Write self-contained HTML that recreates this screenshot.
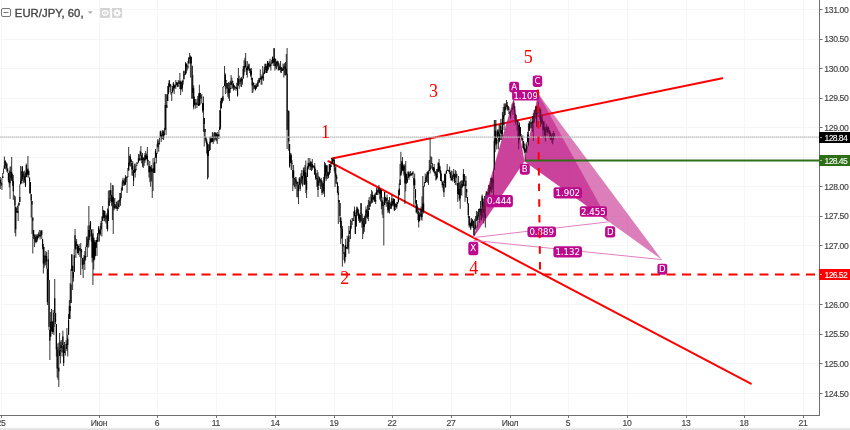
<!DOCTYPE html>
<html><head><meta charset="utf-8"><title>EUR/JPY, 60</title>
<style>
html,body{margin:0;padding:0;background:#fff;}
body{width:850px;height:430px;overflow:hidden;position:relative;}
svg{position:absolute;left:0;top:0;display:block;}
.ax{font-family:"Liberation Sans",Arial,sans-serif;font-size:8.6px;fill:#444;stroke:#444;stroke-width:0.15px;letter-spacing:-0.35px;}
.tg{font-family:"Liberation Sans",Arial,sans-serif;font-size:8.6px;fill:#fff;stroke:#fff;stroke-width:0.1px;letter-spacing:-0.6px;}
.num{font-family:"Liberation Serif","Times New Roman",serif;font-size:18px;fill:#ff0000;}
.pl{font-family:"DejaVu Sans",Verdana,sans-serif;font-size:8.6px;fill:#fff;stroke:#fff;stroke-width:0.05px;}
</style></head><body>
<svg width="850" height="430" viewBox="0 0 850 430">

<path d="M1.5 0V415M99.5 0V415M157.5 0V415M216.5 0V415M275.5 0V415M334.5 0V415M392.5 0V415M451.5 0V415M510.5 0V415M568.5 0V415M627.5 0V415M686.5 0V415M744.5 0V415M803.5 0V415M0 9.5H819M0 39.5H819M0 68.5H819M0 98.5H819M0 127.5H819M0 157.5H819M0 186.5H819M0 216.5H819M0 245.5H819M0 275.5H819M0 304.5H819M0 334.5H819M0 363.5H819M0 393.5H819" stroke="#f6f6f6" stroke-width="1" fill="none"/>
<polygon points="524.4,161.3 538.2,93.8 661.7,259.6" fill="rgba(190,20,130,0.55)"/>
<polygon points="524.4,161.3 538.2,93.8 609.0,221.8" fill="rgba(190,20,130,0.16)"/>
<polygon points="473.5,237.6 513.5,99 524.4,161.3" fill="rgba(190,20,130,0.62)"/>
<path d="M93 274.4H819" stroke="#ff0000" stroke-width="2" stroke-dasharray="9 6.5" fill="none"/>
<path d="M332 158.6L722.3 78.2M328.3 161.2L750.8 383.7" stroke="#ff0000" stroke-width="2" stroke-linecap="round" fill="none"/>
<path d="M0.30 177.0V189.0M1.11 182.7V186.0M1.93 178.0V190.0M2.74 173.0V178.0M3.55 168.5V173.0M4.36 156.5V168.5M5.17 160.3V168.8M5.99 161.9V169.6M6.80 163.5V171.8M7.61 168.4V172.9M8.43 172.9V182.1M9.24 170.6V187.3M10.05 166.6V198.8M10.86 166.5V177.6M11.68 157.0V181.0M12.49 173.6V185.8M13.30 175.0V199.9M14.11 195.5V196.5M14.93 196.5V233.0M15.74 206.7V236.5M16.55 208.0V212.4M17.36 206.0V213.0M18.18 204.4V221.0M18.99 202.0V205.6M19.80 184.3V202.0M20.61 166.0V184.3M21.43 171.2V183.5M22.24 166.0V180.9M23.05 171.4V183.5M23.86 174.0V182.3M24.68 170.6V182.8M25.49 172.6V187.0M26.30 163.5V177.0M27.11 169.9V177.6M27.93 156.0V174.3M28.74 170.8V177.6M29.55 177.6V193.5M30.36 182.0V194.2M31.18 194.2V217.6M31.99 201.0V234.0M32.80 217.6V253.5M33.61 230.0V239.1M34.42 234.3V247.1M35.24 234.7V242.6M36.05 234.2V243.4M36.86 234.7V241.8M37.67 234.1V239.7M38.49 232.4V237.3M39.30 230.0V236.3M40.11 235.1V239.4M40.92 230.4V235.5M41.74 230.0V239.0M42.55 239.0V249.4M43.36 244.0V273.5M44.17 246.9V267.7M44.99 254.6V265.7M45.80 251.0V265.0M46.61 252.1V268.9M47.42 268.9V305.0M48.24 250.0V280.1M49.05 280.1V329.9M49.86 329.8V360.0M50.67 312.0V336.6M51.49 309.0V331.2M52.30 321.5V334.0M53.11 310.0V332.3M53.92 312.6V335.0M54.74 279.0V313.0M55.55 313.0V324.0M56.36 324.0V356.5M57.17 343.4V377.5M57.99 347.0V379.8M58.80 342.6V387.0M59.61 333.0V356.1M60.42 341.6V363.5M61.24 340.0V348.0M62.05 342.7V356.5M62.86 330.6V344.9M63.67 344.9V366.0M64.49 342.0V353.0M65.30 348.5V355.7M66.11 340.3V349.1M66.92 328.0V351.1M67.74 334.8V356.5M68.55 314.0V334.8M69.36 300.0V319.0M70.17 283.0V319.0M70.99 269.0V303.0M71.80 254.0V271.0M72.61 265.8V290.0M73.42 272.0V281.6M74.24 248.8V272.0M75.05 229.0V248.8M75.86 241.6V258.0M76.67 239.0V245.9M77.49 243.9V253.5M78.30 245.8V254.9M79.11 244.0V250.8M79.92 247.9V257.0M80.74 243.0V275.0M81.55 249.0V258.0M82.36 258.0V269.1M83.17 257.3V278.0M83.99 255.0V264.4M84.80 251.0V270.0M85.61 246.8V260.6M86.42 236.5V246.8M87.24 238.6V257.0M88.05 225.6V247.9M88.86 206.0V246.7M89.67 225.2V240.0M90.49 221.0V229.6M91.30 229.6V241.6M92.11 234.8V262.4M92.92 229.0V285.0M93.74 237.7V269.6M94.55 240.3V259.4M95.36 242.2V256.3M96.17 240.0V247.7M96.99 237.2V256.0M97.80 233.2V241.7M98.61 226.0V233.7M99.42 229.7V241.6M100.24 226.1V235.8M101.05 221.0V229.4M101.86 216.2V236.5M102.67 206.0V221.1M103.49 209.9V218.2M104.30 210.7V221.0M105.11 211.0V221.6M105.92 218.2V223.5M106.74 213.5V228.9M107.55 208.4V231.4M108.36 190.5V221.0M109.17 197.9V205.8M109.99 190.1V203.0M110.80 182.8V195.3M111.61 195.0V205.9M112.42 185.0V220.1M113.24 185.3V234.0M114.05 198.5V210.4M114.86 198.0V208.9M115.67 204.3V208.4M116.49 201.9V209.2M117.30 200.7V211.0M118.11 203.2V209.0M118.92 199.9V207.2M119.74 193.0V202.3M120.55 192.9V205.8M121.36 188.2V197.7M122.17 181.8V190.5M122.99 177.7V185.7M123.80 181.2V182.9M124.61 178.5V185.7M125.42 175.0V185.0M126.24 176.3V182.2M127.05 176.8V193.0M127.86 168.0V177.1M128.68 147.0V170.6M129.49 155.8V165.8M130.30 154.0V166.7M131.11 159.6V166.0M131.93 162.8V175.5M132.74 161.0V175.8M133.55 170.2V186.0M134.36 163.7V173.0M135.18 163.5V177.6M135.99 165.7V170.3M136.80 162.1V166.1M137.61 162.5V163.5M138.43 154.0V162.5M139.24 154.5V160.7M140.05 150.7V161.0M140.86 146.0V155.7M141.68 155.4V163.3M142.49 153.0V166.8M143.30 157.3V168.0M144.11 158.6V166.0M144.93 153.0V162.8M145.74 150.8V159.6M146.55 153.5V159.0M147.36 147.0V165.3M148.18 159.9V166.0M148.99 166.0V177.6M149.80 161.0V181.9M150.61 167.2V186.7M151.43 165.0V181.4M152.24 168.9V198.0M153.05 158.0V191.0M153.86 162.6V173.0M154.68 157.5V173.0M155.49 149.0V157.5M156.30 153.1V163.5M157.11 143.7V153.1M157.93 139.0V147.3M158.74 143.2V151.8M159.55 137.9V144.3M160.36 130.6V138.0M161.18 135.0V142.0M161.99 130.6V139.3M162.80 130.0V139.0M163.61 130.6V140.0M164.43 128.0V135.2M165.24 94.0V130.1M166.05 94.0V135.0M166.86 95.1V107.9M167.68 86.0V101.0M168.49 83.3V94.0M169.30 80.0V87.3M170.11 83.9V91.9M170.93 84.7V94.7M171.74 92.3V101.0M172.55 86.0V92.3M173.36 82.0V90.7M174.18 85.2V94.0M174.99 83.8V87.3M175.80 80.0V89.0M176.61 82.0V84.8M177.43 82.7V87.1M178.24 80.0V87.0M179.05 80.8V84.0M179.86 73.0V89.0M180.68 80.5V95.0M181.49 82.0V89.2M182.30 80.5V91.8M183.11 79.3V84.7M183.93 70.6V79.3M184.74 74.0V75.0M185.55 62.0V74.5M186.36 63.4V73.4M187.18 65.1V70.6M187.99 61.0V68.6M188.80 57.0V63.5M189.61 53.0V58.8M190.43 55.5V77.6M191.24 56.5V65.8M192.05 65.8V99.0M192.86 75.0V92.9M193.68 85.3V109.4M194.49 96.5V104.9M195.30 99.4V108.6M196.11 102.7V104.9M196.93 99.0V108.0M197.74 96.0V104.7M198.55 93.5V106.0M199.36 84.7V105.5M200.18 92.8V104.7M200.99 95.1V99.1M201.80 94.0V103.5M202.61 103.2V112.6M203.43 96.5V131.8M204.24 118.1V146.5M205.05 129.0V138.7M205.86 136.9V142.6M206.68 139.0V153.5M207.49 142.7V179.4M208.30 144.0V177.7M209.11 145.0V151.0M209.93 137.0V149.9M210.74 136.4V143.2M211.55 138.1V142.3M212.36 132.0V141.8M213.18 132.6V144.0M213.99 136.9V142.0M214.80 132.0V140.6M215.61 132.7V139.9M216.43 133.6V141.3M217.24 132.0V144.0M218.05 134.1V137.9M218.86 130.0V139.0M219.68 110.1V130.0M220.49 101.0V129.0M221.30 98.0V108.3M222.11 97.5V103.5M222.93 87.0V100.8M223.74 86.0V87.0M224.55 66.0V86.0M225.36 73.3V94.0M226.18 80.0V89.1M226.99 83.0V93.3M227.80 83.2V96.8M228.61 82.0V98.6M229.43 82.7V101.0M230.24 80.8V92.7M231.05 75.0V85.0M231.86 77.6V89.0M232.68 80.7V88.3M233.49 83.5V90.6M234.30 85.5V89.9M235.11 86.6V88.7M235.93 87.0V90.6M236.74 82.8V89.2M237.55 78.0V96.5M238.36 68.0V85.6M239.18 75.7V88.8M239.99 80.5V83.8M240.80 77.6V86.6M241.61 76.8V87.0M242.43 78.4V84.7M243.24 66.0V78.4M244.05 60.1V75.3M244.86 57.8V72.1M245.68 53.0V67.8M246.49 67.7V75.0M247.30 61.0V77.6M248.11 66.5V70.9M248.93 63.5V68.6M249.74 68.6V73.0M250.55 68.7V76.6M251.36 68.0V80.0M252.18 77.8V93.0M252.99 82.0V92.5M253.80 83.3V89.3M254.61 85.4V88.8M255.43 84.7V90.6M256.24 83.2V88.6M257.05 83.9V87.0M257.86 80.0V87.0M258.68 78.1V83.0M259.49 78.1V82.5M260.30 69.4V79.6M261.11 76.4V84.7M261.93 74.4V84.7M262.74 66.0V78.3M263.55 72.6V80.9M264.36 67.0V74.0M265.18 63.5V73.0M265.99 66.0V72.5M266.80 63.8V73.0M267.61 61.0V70.6M268.43 63.2V69.6M269.24 61.1V67.1M270.05 58.8V67.7M270.86 62.6V70.6M271.68 59.8V63.6M272.49 56.5V63.5M273.30 59.1V66.0M274.11 48.0V62.9M274.93 58.4V70.6M275.74 59.0V68.5M276.55 61.4V69.3M277.36 60.6V66.5M278.18 61.0V70.6M278.99 65.7V70.4M279.80 63.4V70.1M280.61 61.0V72.6M281.43 66.9V73.0M282.24 68.4V70.9M283.05 63.5V70.5M283.86 64.4V77.6M284.68 63.1V75.3M285.49 62.0V75.5M286.30 54.0V75.0M287.11 48.0V149.0M287.93 110.1V111.1M288.74 111.1V150.8M289.55 144.0V167.6M290.36 152.9V162.7M291.18 153.5V169.7M291.99 160.1V170.0M292.80 170.0V191.0M293.61 165.0V185.5M294.43 178.0V187.2M295.24 176.9V189.0M296.05 177.0V186.2M296.86 181.3V197.2M297.68 181.8V197.3M298.49 184.7V204.0M299.30 177.0V184.7M300.11 182.7V191.0M300.93 173.3V182.7M301.74 170.0V184.5M302.55 175.8V186.5M303.36 167.6V175.8M304.18 167.3V184.8M304.99 165.0V184.6M305.80 160.6V193.2M306.61 176.1V198.0M307.43 166.2V177.0M308.24 158.0V168.8M309.05 164.2V170.0M309.86 158.0V166.0M310.68 161.1V170.1M311.49 161.8V171.0M312.30 159.0V169.9M313.11 165.6V168.2M313.93 165.6V168.2M314.74 163.0V174.7M315.55 168.7V179.7M316.36 173.2V179.2M317.18 170.0V186.7M317.99 172.4V197.0M318.80 175.9V185.8M319.61 177.0V182.8M320.43 179.6V189.0M321.24 178.0V186.4M322.05 180.3V195.0M322.86 183.9V191.6M323.68 177.0V193.8M324.49 161.8V197.0M325.30 163.0V176.0M326.11 165.4V181.0M326.93 165.0V171.8M327.74 171.8V179.0M328.55 172.3V178.0M329.36 164.0V174.7M330.18 164.5V173.1M330.99 161.5V166.9M331.80 158.0V164.0M332.61 158.8V162.9M333.43 159.5V161.1M334.24 157.0V171.0M335.05 167.3V187.0M335.86 165.0V183.6M336.68 175.1V184.1M337.49 182.4V193.1M338.30 186.0V224.0M339.11 200.0V203.0M339.93 203.0V222.0M340.74 217.4V244.0M341.55 221.0V238.8M342.36 226.0V266.7M343.18 244.0V252.1M343.99 252.1V260.0M344.80 245.5V263.4M345.61 239.0V257.0M346.43 247.3V248.8M347.24 235.8V249.0M348.05 237.4V249.6M348.86 226.0V253.7M349.68 230.7V233.9M350.49 219.5V239.0M351.30 221.1V228.7M352.11 218.0V224.4M352.93 217.9V221.0M353.74 211.4V221.0M354.55 206.5V216.2M355.36 215.5V234.0M356.18 209.8V226.6M356.99 206.5V216.0M357.80 208.7V215.6M358.61 209.8V220.9M359.43 214.0V222.8M360.24 212.6V222.8M361.05 203.0V213.8M361.86 213.8V227.7M362.68 218.0V239.0M363.49 218.0V234.0M364.30 216.0V231.8M365.11 214.7V224.4M365.93 206.5V223.6M366.74 209.0V218.2M367.55 205.0V218.8M368.36 200.0V221.0M369.18 197.0V209.8M369.99 201.4V206.7M370.80 194.2V204.0M371.61 190.0V203.2M372.43 191.5V202.8M373.24 197.2V199.8M374.05 194.7V201.8M374.86 193.5V202.0M375.68 192.6V204.0M376.49 187.6V194.7M377.30 189.9V195.0M378.11 187.9V194.7M378.93 185.0V193.0M379.74 189.5V199.5M380.55 189.1V201.5M381.36 190.0V209.2M382.18 200.4V214.6M382.99 197.0V218.0M383.80 205.0V245.5M384.61 192.0V205.0M385.43 197.5V202.8M386.24 198.0V206.9M387.05 194.7V204.0M387.86 201.8V213.0M388.68 200.0V212.3M389.49 197.0V213.5M390.30 202.2V208.9M391.11 201.4V208.8M391.93 194.7V206.2M392.74 201.3V205.0M393.55 198.3V206.2M394.36 199.0V211.0M395.18 203.1V209.9M395.99 203.9V207.2M396.80 201.8V208.8M397.61 202.2V204.0M398.43 190.0V202.2M399.24 183.4V195.3M400.05 164.0V185.0M400.86 151.8V175.5M401.68 160.9V173.5M402.49 157.0V170.9M403.30 165.0V170.9M404.11 164.0V176.5M404.93 164.9V204.0M405.74 161.0V191.4M406.55 174.2V183.8M407.36 177.0V183.0M408.18 171.0V177.7M408.99 173.6V179.8M409.80 171.5V177.2M410.61 171.0V176.0M411.43 173.2V175.8M412.24 172.4V174.6M413.05 171.0V178.0M413.86 178.0V206.5M414.68 173.5V189.1M415.49 189.1V203.7M416.30 200.0V213.5M417.11 204.0V211.4M417.93 211.3V220.1M418.74 208.8V227.6M419.55 212.5V221.1M420.36 208.4V216.3M421.18 206.5V219.8M421.99 196.3V220.6M422.80 176.0V211.8M423.61 186.0V213.5M424.43 182.0V186.0M425.24 173.5V183.1M426.05 176.3V182.3M426.86 172.1V181.3M427.68 171.0V182.8M428.49 170.5V185.0M429.30 160.0V171.1M430.11 137.6V173.5M430.93 156.2V169.0M431.74 157.0V164.1M432.55 163.6V170.0M433.36 167.0V172.0M434.18 164.0V173.1M434.99 171.2V176.0M435.80 171.6V180.6M436.61 169.0V179.5M437.43 168.8V177.3M438.24 162.1V171.7M439.05 159.0V172.3M439.86 165.9V173.5M440.68 170.5V180.9M441.49 173.5V181.8M442.30 181.8V187.6M443.11 180.6V190.4M443.93 180.9V197.0M444.74 173.5V183.3M445.55 173.6V187.6M446.36 170.3V173.6M447.18 164.0V170.3M447.99 169.6V170.9M448.80 170.1V172.2M449.61 166.5V174.2M450.43 172.4V178.0M451.24 170.5V180.6M452.05 171.0V180.2M452.86 175.1V181.6M453.68 169.0V177.1M454.49 174.3V183.0M455.30 170.0V185.0M456.11 171.0V177.7M456.93 174.4V185.6M457.74 183.1V201.8M458.55 176.0V195.0M459.36 182.5V200.7M460.18 181.5V208.8M460.99 180.6V195.0M461.80 180.3V195.7M462.61 180.5V187.6M463.43 169.0V185.7M464.24 174.2V185.2M465.05 184.5V201.8M465.86 176.0V197.8M466.68 189.0V197.8M467.49 197.0V203.4M468.30 203.4V218.0M469.11 216.0V227.6M469.93 218.4V226.6M470.74 222.4V230.0M471.55 218.0V226.2M472.36 219.0V226.2M473.18 220.9V228.0M473.99 220.6V236.0M474.80 218.8V228.5M475.61 216.0V229.7M476.43 211.0V220.6M477.24 214.6V227.6M478.05 211.4V218.2M478.86 208.8V220.0M479.68 208.4V223.0M480.49 201.0V215.6M481.30 209.2V220.6M482.11 194.4V217.5M482.93 198.6V212.9M483.74 202.4V223.5M484.55 196.0V218.2M485.36 204.6V227.6M486.18 191.0V204.6M486.99 191.8V205.0M487.80 193.4V197.0M488.61 185.0V196.1M489.43 184.7V196.0M490.24 185.7V191.4M491.05 178.0V193.0M491.86 177.3V192.5M492.68 177.7V189.3M493.49 170.0V197.0M494.30 120.0V170.0M495.11 120.0V152.2M495.93 120.0V145.3M496.74 137.3V149.4M497.55 129.4V137.4M498.36 129.4V149.4M499.18 124.7V142.4M499.99 124.7V140.0M500.80 118.8V133.5M501.61 130.3V140.0M502.43 111.9V138.0M503.24 107.0V124.9M504.05 103.5V130.0M504.86 103.5V115.0M505.68 103.4V110.3M506.49 100.0V107.0M507.30 102.0V110.6M508.11 105.7V110.1M508.93 107.0V114.0M509.74 111.8V114.8M510.55 110.6V118.8M511.36 109.8V111.9M512.17 103.5V109.8M512.99 106.3V115.0M513.80 101.0V109.4M514.61 106.0V118.8M515.42 113.7V124.7M516.24 115.0V121.9M517.05 120.0V130.6M517.86 121.0V137.6M518.67 125.1V149.4M519.49 122.4V140.0M520.30 127.0V137.1M521.11 134.0V138.0M521.92 136.6V141.1M522.74 135.3V148.2M523.55 141.1V149.4M524.36 143.5V153.2M525.17 148.7V160.6M525.99 143.5V151.5M526.80 142.2V153.0M527.61 131.8V142.2M528.42 123.5V146.0M529.24 121.0V130.7M530.05 122.4V129.4M530.86 119.0V128.0M531.67 121.7V128.2M532.49 116.0V131.8M533.30 113.0V141.0M534.11 110.0V122.4M534.92 109.4V119.0M535.74 106.0V114.7M536.55 105.9V127.0M537.36 107.3V115.0M538.17 101.0V113.2M538.99 110.1V113.5M539.80 107.0V119.6M540.61 109.4V127.0M541.42 116.5V123.9M542.24 115.0V124.7M543.05 122.2V138.0M543.86 121.0V130.9M544.67 127.0V138.4M545.49 128.6V141.5M546.30 124.0V130.6M547.11 128.5V136.0M547.92 126.0V132.0M548.74 128.0V134.0M549.55 130.0V137.4M550.36 131.7V140.0M551.17 134.5V140.2M551.99 133.0V143.0M552.80 133.0V144.3M553.61 131.0V140.0M554.42 133.0V137.0" stroke="#000" stroke-width="0.8" fill="none"/>
<path d="M0.30 179.8V183.0M1.11 182.7V183.8M1.93 183.8V184.4M2.74 176.2V178.0M3.55 172.9V173.5M4.36 165.4V168.5M5.17 160.8V165.4M5.99 161.9V162.6M6.80 163.5V168.1M7.61 168.4V170.9M8.43 172.9V180.3M9.24 180.3V183.3M10.05 171.8V183.3M10.86 171.8V172.4M11.68 172.0V179.7M12.49 179.7V180.9M13.30 180.9V191.3M14.11 195.5V196.2M14.93 196.5V205.4M15.74 206.7V229.2M16.55 211.3V212.4M17.36 211.3V212.6M18.18 211.5V212.6M18.99 202.9V205.6M19.80 197.1V202.0M20.61 180.9V184.3M21.43 178.9V180.9M22.24 166.8V178.9M23.05 171.4V176.8M23.86 176.2V176.8M24.68 176.2V180.1M25.49 180.1V186.3M26.30 165.0V177.0M27.11 169.9V174.7M27.93 168.5V174.3M28.74 170.8V175.1M29.55 177.6V181.6M30.36 182.0V192.7M31.18 194.2V200.5M31.99 201.0V204.4M32.80 217.6V220.7M33.61 230.0V235.7M34.42 235.7V237.0M35.24 237.0V241.3M36.05 241.3V241.9M36.86 236.2V241.6M37.67 236.2V238.6M38.49 237.2V237.8M39.30 234.7V236.3M40.11 235.1V236.7M40.92 230.8V235.5M41.74 230.8V234.4M42.55 239.0V247.1M43.36 247.1V263.5M44.17 262.0V263.5M44.99 256.1V262.0M45.80 256.1V256.7M46.61 256.1V261.6M47.42 268.9V301.9M48.24 259.2V280.1M49.05 280.1V326.7M49.86 329.8V340.7M50.67 321.8V336.6M51.49 321.5V322.1M52.30 321.5V332.0M53.11 326.9V332.0M53.92 313.1V326.9M54.74 298.3V313.0M55.55 313.0V321.9M56.36 324.0V349.6M57.17 349.6V368.6M57.99 367.8V368.6M58.80 367.8V371.4M59.61 350.7V356.1M60.42 350.3V350.9M61.24 345.4V348.0M62.05 345.4V352.6M62.86 336.5V344.9M63.67 344.9V362.9M64.49 351.7V353.0M65.30 351.7V352.3M66.11 344.0V349.1M66.92 344.0V345.1M67.74 338.4V345.1M68.55 320.1V334.8M69.36 305.9V319.0M70.17 305.9V310.9M70.99 284.6V303.0M71.80 254.6V271.0M72.61 265.8V271.0M73.42 272.0V277.7M74.24 255.3V272.0M75.05 235.2V248.8M75.86 241.6V249.5M76.67 245.3V245.9M77.49 245.3V253.1M78.30 246.2V253.1M79.11 246.2V246.8M79.92 247.9V250.4M80.74 250.4V251.0M81.55 250.6V252.3M82.36 258.0V264.8M83.17 263.9V264.8M83.99 259.8V263.9M84.80 256.1V259.8M85.61 256.1V257.4M86.42 245.2V246.8M87.24 243.6V245.2M88.05 236.3V243.6M88.86 229.9V236.3M89.67 229.9V236.9M90.49 221.8V229.6M91.30 229.6V236.1M92.11 236.1V257.7M92.92 233.3V257.7M93.74 237.7V260.5M94.55 242.3V259.4M95.36 242.3V255.8M96.17 240.1V247.7M96.99 240.1V241.7M97.80 233.3V241.7M98.61 227.6V233.3M99.42 229.7V234.2M100.24 229.4V234.2M101.05 223.2V229.4M101.86 222.9V223.5M102.67 216.9V221.1M103.49 210.7V216.9M104.30 210.7V217.7M105.11 215.3V217.7M105.92 218.2V218.8M106.74 215.4V218.7M107.55 215.4V229.6M108.36 210.2V221.0M109.17 201.0V205.8M109.99 190.3V201.0M110.80 190.3V195.1M111.61 195.1V201.7M112.42 197.0V201.7M113.24 197.0V203.7M114.05 203.7V208.3M114.86 206.4V208.3M115.67 205.8V206.4M116.49 205.8V207.1M117.30 207.1V208.1M118.11 208.1V208.7M118.92 200.5V207.2M119.74 199.4V200.5M120.55 197.5V199.4M121.36 197.4V198.0M122.17 186.5V190.5M122.99 179.8V185.7M123.80 181.2V182.6M124.61 182.6V184.4M125.42 177.4V184.4M126.24 177.4V178.0M127.05 177.3V177.9M127.86 176.5V177.1M128.68 162.8V170.6M129.49 161.7V162.8M130.30 156.5V161.7M131.11 159.6V162.1M131.93 162.8V169.4M132.74 165.9V169.4M133.55 170.2V180.8M134.36 169.3V173.0M135.18 169.3V172.3M135.99 169.2V170.3M136.80 165.5V166.1M137.61 162.9V163.5M138.43 158.5V162.5M139.24 158.5V160.1M140.05 158.2V160.1M140.86 151.8V155.7M141.68 155.4V160.1M142.49 159.2V160.1M143.30 157.8V159.2M144.11 158.6V160.4M144.93 155.3V160.4M145.74 155.3V159.3M146.55 155.8V159.0M147.36 155.8V160.6M148.18 160.5V161.1M148.99 166.0V172.2M149.80 166.1V172.2M150.61 167.2V168.4M151.43 168.4V171.5M152.24 170.3V171.5M153.05 168.2V170.3M153.86 168.2V172.7M154.68 162.1V172.7M155.49 150.7V157.5M156.30 153.1V158.0M157.11 153.1V153.7M157.93 140.6V147.3M158.74 143.2V144.1M159.55 143.6V144.2M160.36 131.6V138.0M161.18 135.0V138.1M161.99 133.3V138.1M162.80 131.6V133.3M163.61 131.6V138.0M164.43 134.4V135.2M165.24 104.9V130.1M166.05 104.9V105.5M166.86 105.4V107.7M167.68 94.0V101.0M168.49 86.3V94.0M169.30 80.6V86.3M170.11 83.9V85.9M170.93 85.9V86.6M171.74 92.3V92.9M172.55 88.4V92.3M173.36 83.6V88.4M174.18 85.2V88.3M174.99 85.6V87.3M175.80 85.6V86.2M176.61 82.5V84.8M177.43 82.7V85.4M178.24 85.4V86.0M179.05 81.5V84.0M179.86 81.5V82.3M180.68 82.3V89.2M181.49 88.3V89.2M182.30 80.7V88.3M183.11 80.7V81.7M183.93 71.2V79.3M184.74 74.0V74.6M185.55 63.8V74.5M186.36 63.8V66.5M187.18 66.5V67.1M187.99 66.6V67.3M188.80 58.0V63.5M189.61 57.6V58.2M190.43 57.6V63.6M191.24 56.9V63.6M192.05 65.8V98.5M192.86 88.3V92.9M193.68 88.3V106.8M194.49 99.0V104.9M195.30 99.4V100.0M196.11 102.7V104.4M196.93 104.0V104.6M197.74 104.0V104.6M198.55 104.1V105.8M199.36 93.1V105.5M200.18 93.1V96.9M200.99 96.9V97.5M201.80 97.4V98.0M202.61 103.2V110.6M203.43 103.0V110.6M204.24 118.1V123.9M205.05 129.0V132.0M205.86 136.9V140.8M206.68 140.8V144.6M207.49 144.6V156.0M208.30 150.1V156.0M209.11 150.1V150.7M209.93 141.7V149.9M210.74 138.8V141.7M211.55 138.8V142.0M212.36 135.8V141.8M213.18 135.8V136.4M213.99 136.9V137.5M214.80 132.4V137.2M215.61 132.7V133.3M216.43 133.6V137.8M217.24 135.1V137.8M218.05 134.6V135.2M218.86 134.6V136.4M219.68 127.3V130.0M220.49 110.7V127.3M221.30 98.3V108.3M222.11 98.3V102.3M222.93 96.3V100.8M223.74 86.7V87.3M224.55 83.4V86.0M225.36 75.1V83.4M226.18 80.0V80.6M226.99 83.0V88.1M227.80 88.1V88.7M228.61 88.7V93.0M229.43 89.0V93.0M230.24 87.8V89.0M231.05 82.0V85.0M231.86 81.8V82.4M232.68 81.1V81.8M233.49 83.5V86.8M234.30 85.6V86.8M235.11 86.6V87.8M235.93 87.7V88.3M236.74 87.7V88.9M237.55 88.9V95.4M238.36 78.9V85.6M239.18 78.9V79.5M239.99 80.5V81.7M240.80 78.8V81.7M241.61 78.8V80.5M242.43 79.6V80.5M243.24 68.9V78.4M244.05 66.1V68.9M244.86 66.1V67.1M245.68 61.3V67.1M246.49 67.7V70.1M247.30 66.2V70.1M248.11 66.5V69.5M248.93 64.3V68.6M249.74 68.6V71.1M250.55 71.1V74.6M251.36 71.0V74.6M252.18 77.8V85.6M252.99 82.7V85.6M253.80 83.3V84.0M254.61 85.4V87.0M255.43 87.0V89.8M256.24 86.0V88.6M257.05 86.0V86.6M257.86 82.3V86.1M258.68 82.2V82.8M259.49 80.0V82.2M260.30 77.8V79.6M261.11 77.8V79.5M261.93 76.3V79.5M262.74 76.3V77.5M263.55 77.5V78.3M264.36 69.8V74.0M265.18 64.0V69.8M265.99 66.0V66.6M266.80 66.3V72.9M267.61 61.3V70.6M268.43 63.2V65.6M269.24 65.6V66.2M270.05 64.3V66.1M270.86 64.3V65.7M271.68 62.8V63.6M272.49 57.2V62.8M273.30 59.1V62.5M274.11 48.3V62.5M274.93 58.4V66.0M275.74 63.6V66.0M276.55 61.8V63.6M277.36 61.8V62.4M278.18 62.4V65.6M278.99 65.7V69.8M279.80 68.8V69.8M280.61 67.4V68.8M281.43 67.4V68.6M282.24 68.6V70.9M283.05 68.6V70.5M283.86 66.6V68.6M284.68 66.6V67.5M285.49 67.5V68.9M286.30 68.9V74.1M287.11 74.1V129.8M287.93 110.5V111.1M288.74 111.1V141.6M289.55 144.0V166.4M290.36 155.3V162.7M291.18 155.3V162.9M291.99 162.9V163.8M292.80 170.0V177.7M293.61 170.7V177.7M294.43 178.0V178.9M295.24 178.9V179.5M296.05 179.4V183.2M296.86 183.2V183.8M297.68 181.9V183.6M298.49 184.7V190.9M299.30 178.6V184.7M300.11 182.7V189.0M300.93 177.4V182.7M301.74 175.9V177.4M302.55 175.9V178.8M303.36 170.3V175.8M304.18 170.3V184.6M304.99 172.4V184.6M305.80 172.4V180.7M306.61 180.7V189.9M307.43 167.4V177.0M308.24 162.9V167.4M309.05 164.2V166.4M309.86 162.6V166.0M310.68 162.6V166.7M311.49 166.7V167.3M312.30 164.1V167.3M313.11 165.6V166.4M313.93 166.4V167.0M314.74 166.6V174.6M315.55 174.6V178.0M316.36 178.0V178.6M317.18 178.2V186.6M317.99 186.6V189.9M318.80 180.4V185.8M319.61 178.1V180.4M320.43 179.6V180.3M321.24 180.3V182.1M322.05 182.1V192.9M322.86 190.9V191.6M323.68 183.1V190.9M324.49 174.0V183.1M325.30 164.5V174.0M326.11 165.4V178.7M326.93 165.5V171.8M327.74 171.8V176.3M328.55 173.5V176.3M329.36 164.2V173.5M330.18 164.5V169.9M330.99 165.3V166.9M331.80 162.2V164.0M332.61 159.3V162.2M333.43 159.5V160.1M334.24 160.1V166.7M335.05 167.3V173.4M335.86 173.4V176.7M336.68 176.7V178.8M337.49 182.4V192.5M338.30 192.5V194.9M339.11 200.0V202.6M339.93 203.0V215.9M340.74 217.4V227.7M341.55 227.7V229.0M342.36 229.0V237.4M343.18 244.0V246.4M343.99 252.1V254.1M344.80 254.1V261.5M345.61 245.1V257.0M346.43 247.3V248.2M347.24 247.6V248.2M348.05 242.0V247.6M348.86 235.5V242.0M349.68 230.8V233.9M350.49 226.6V230.8M351.30 226.2V226.8M352.11 224.2V224.8M352.93 220.4V221.0M353.74 220.4V221.0M354.55 210.4V216.2M355.36 215.5V233.8M356.18 212.2V226.6M356.99 207.3V212.2M357.80 208.7V213.0M358.61 213.0V218.8M359.43 215.1V218.8M360.24 215.1V221.4M361.05 203.3V213.8M361.86 213.8V221.2M362.68 221.2V224.3M363.49 224.3V227.1M364.30 224.1V227.1M365.11 217.1V224.1M365.93 210.2V217.1M366.74 210.2V213.2M367.55 213.2V216.7M368.36 211.0V216.7M369.18 208.1V209.8M369.99 201.4V206.7M370.80 201.4V202.0M371.61 197.0V201.4M372.43 194.9V197.0M373.24 197.2V199.4M374.05 195.3V199.4M374.86 195.3V201.3M375.68 200.0V201.3M376.49 191.6V194.7M377.30 191.6V192.2M378.11 189.6V191.9M378.93 188.8V189.6M379.74 189.5V194.0M380.55 189.9V194.0M381.36 190.0V197.7M382.18 200.4V205.7M382.99 201.8V205.7M383.80 205.0V205.6M384.61 192.1V205.0M385.43 197.5V199.4M386.24 199.4V200.7M387.05 197.6V200.7M387.86 201.8V210.2M388.68 203.1V210.2M389.49 203.1V204.0M390.30 204.0V204.6M391.11 204.1V208.7M391.93 198.3V206.2M392.74 201.3V203.7M393.55 198.7V203.7M394.36 199.0V210.1M395.18 209.5V210.1M395.99 204.0V207.2M396.80 204.0V206.6M397.61 202.4V204.0M398.43 199.2V202.2M399.24 188.6V195.3M400.05 179.4V185.0M400.86 171.5V175.5M401.68 162.3V171.5M402.49 162.3V170.2M403.30 166.2V170.2M404.11 166.2V174.5M404.93 174.5V183.4M405.74 172.5V183.4M406.55 174.2V178.9M407.36 178.9V181.7M408.18 172.1V177.7M408.99 173.6V175.7M409.80 174.9V175.7M410.61 173.9V174.9M411.43 173.9V174.7M412.24 173.1V174.6M413.05 172.8V173.4M413.86 178.0V185.3M414.68 179.4V185.3M415.49 189.1V198.1M416.30 200.0V212.3M417.11 205.7V211.4M417.93 211.3V214.0M418.74 214.0V221.9M419.55 215.4V221.1M420.36 214.4V215.4M421.18 214.4V217.0M421.99 209.3V217.0M422.80 203.4V209.3M423.61 203.4V211.4M424.43 185.8V186.4M425.24 181.7V183.1M426.05 177.8V181.7M426.86 174.4V177.8M427.68 172.6V174.4M428.49 172.6V174.6M429.30 169.7V171.1M430.11 168.3V169.7M430.93 165.6V168.3M431.74 163.5V164.1M432.55 163.6V164.2M433.36 167.0V171.0M434.18 167.4V171.0M434.99 171.2V173.6M435.80 173.6V174.2M436.61 173.7V178.9M437.43 176.5V177.3M438.24 163.2V171.7M439.05 163.2V170.6M439.86 166.5V170.6M440.68 170.5V180.7M441.49 180.0V180.7M442.30 181.8V184.9M443.11 184.1V184.9M443.93 184.1V192.3M444.74 174.3V183.3M445.55 174.3V187.2M446.36 171.3V173.6M447.18 169.9V170.5M447.99 169.9V170.8M448.80 170.2V170.8M449.61 170.2V171.8M450.43 172.4V177.6M451.24 177.6V180.2M452.05 179.0V180.2M452.86 175.3V179.0M453.68 173.2V175.3M454.49 174.3V181.3M455.30 181.3V181.9M456.11 173.7V177.7M456.93 174.4V175.0M457.74 183.1V194.0M458.55 188.9V194.0M459.36 188.9V198.5M460.18 188.4V198.5M460.99 185.4V188.4M461.80 184.3V185.4M462.61 184.3V186.7M463.43 174.0V185.7M464.24 174.2V181.6M465.05 184.5V185.9M465.86 180.8V185.9M466.68 189.0V192.3M467.49 197.0V203.4M468.30 203.4V214.9M469.11 216.0V225.2M469.93 223.3V225.2M470.74 223.3V228.6M471.55 221.1V226.2M472.36 220.0V221.1M473.18 220.9V227.8M473.99 227.8V234.9M474.80 228.0V228.6M475.61 225.3V228.0M476.43 220.2V220.8M477.24 216.2V220.2M478.05 211.8V216.2M478.86 209.3V211.8M479.68 209.3V210.2M480.49 209.3V210.2M481.30 209.3V220.0M482.11 196.2V217.5M482.93 198.6V211.8M483.74 209.4V211.8M484.55 209.4V213.6M485.36 213.6V218.5M486.18 193.6V204.6M486.99 192.1V193.6M487.80 193.4V194.0M488.61 193.2V193.8M489.43 187.2V193.2M490.24 187.2V189.4M491.05 178.2V189.4M491.86 178.2V181.3M492.68 181.3V183.2M493.49 179.6V183.2M494.30 140.8V170.0M495.11 130.7V140.8M495.93 130.7V143.7M496.74 139.3V143.7M497.55 131.7V137.4M498.36 131.7V134.1M499.18 134.1V141.5M499.99 135.2V140.0M500.80 126.1V133.5M501.61 130.3V134.0M502.43 119.0V134.0M503.24 115.3V119.0M504.05 115.3V116.3M504.86 106.7V115.0M505.68 106.7V108.9M506.49 105.6V107.0M507.30 105.6V106.3M508.11 106.3V109.8M508.93 109.0V109.8M509.74 111.8V112.8M510.55 112.8V117.4M511.36 111.7V112.3M512.17 108.0V109.8M512.99 107.8V108.4M513.80 103.1V107.8M514.61 106.0V112.6M515.42 113.7V120.4M516.24 119.4V120.4M517.05 120.0V121.2M517.86 121.2V126.2M518.67 126.2V143.5M519.49 124.6V140.0M520.30 127.0V135.8M521.11 135.8V137.5M521.92 137.5V139.5M522.74 139.5V140.1M523.55 141.1V147.7M524.36 147.7V151.0M525.17 151.0V152.5M525.99 148.7V151.5M526.80 145.8V148.7M527.61 134.8V142.2M528.42 134.8V145.2M529.24 123.7V130.7M530.05 122.6V123.7M530.86 122.6V123.3M531.67 123.0V123.6M532.49 121.2V123.0M533.30 121.2V122.9M534.11 117.9V122.4M534.92 111.7V117.9M535.74 107.1V111.7M536.55 107.1V122.0M537.36 114.5V115.1M538.17 107.6V113.2M538.99 110.1V110.7M539.80 108.9V110.7M540.61 109.4V122.1M541.42 122.1V122.7M542.24 119.4V122.2M543.05 122.2V129.7M543.86 121.6V129.7M544.67 127.0V134.9M545.49 134.1V134.9M546.30 126.6V130.6M547.11 128.5V133.1M547.92 126.8V132.0M548.74 128.0V128.6M549.55 130.0V133.5M550.36 133.5V138.8M551.17 136.3V138.8M551.99 136.0V136.6M552.80 136.0V138.7M553.61 138.7V139.3M554.42 135.8V137.0" stroke="#000" stroke-width="1.15" fill="none"/>
<polygon points="473.5,237.6 513.5,99 524.4,161.3" fill="rgba(190,20,130,0.47)"/>
<polygon points="524.4,161.3 538.2,93.8 609.0,221.8" fill="rgba(190,20,130,0.47)"/>
<path d="M473.5,237.6L609.0,221.8M473.5,240.4L661.7,259.6" stroke="#e27fc4" stroke-width="1" fill="none"/>
<path d="M525 160.5H819" stroke="#2d6e17" stroke-width="2" fill="none"/>
<path d="M0 137.1H819" stroke="#bababa" stroke-width="1.3" stroke-dasharray="1.6 0.4" fill="none"/>
<rect x="509.2" y="81.8" width="9.9" height="10.6" rx="2.4" fill="#bd0a8c"/>
<text x="514.1" y="90.3" text-anchor="middle" class="pl">A</text>
<rect x="532.7" y="75.4" width="9.5" height="11.6" rx="2.4" fill="#bd0a8c"/>
<text x="537.5" y="84.4" text-anchor="middle" class="pl">C</text>
<rect x="512.1" y="89.9" width="27.2" height="10.7" rx="2.4" fill="#bd0a8c"/>
<text x="525.7" y="98.5" text-anchor="middle" class="pl">1.109</text>
<rect x="519.8" y="163.7" width="10.0" height="11.0" rx="2.4" fill="#bd0a8c"/>
<text x="524.8" y="172.4" text-anchor="middle" class="pl">B</text>
<rect x="485.7" y="195.0" width="27.2" height="12.2" rx="2.4" fill="#bd0a8c"/>
<text x="499.3" y="204.3" text-anchor="middle" class="pl">0.444</text>
<rect x="553.5" y="187.2" width="28.5" height="11.2" rx="2.4" fill="#bd0a8c"/>
<text x="567.8" y="196.0" text-anchor="middle" class="pl">1.902</text>
<rect x="579.8" y="206.3" width="27.2" height="10.5" rx="2.4" fill="#bd0a8c"/>
<text x="593.4" y="214.8" text-anchor="middle" class="pl">2.455</text>
<rect x="527.4" y="226.6" width="28.6" height="10.6" rx="2.4" fill="#bd0a8c"/>
<text x="541.7" y="235.1" text-anchor="middle" class="pl">0.889</text>
<rect x="553.4" y="246.2" width="28.6" height="11.2" rx="2.4" fill="#bd0a8c"/>
<text x="567.7" y="255.0" text-anchor="middle" class="pl">1.132</text>
<rect x="605.1" y="226.3" width="10.1" height="11.3" rx="2.4" fill="#bd0a8c"/>
<text x="610.2" y="235.1" text-anchor="middle" class="pl">D</text>
<rect x="468.3" y="241.7" width="10.0" height="13.6" rx="2.4" fill="#bd0a8c"/>
<text x="473.3" y="250.9" text-anchor="middle" class="pl">X</text>
<rect x="657.4" y="263.7" width="9.9" height="11.0" rx="2.4" fill="#bd0a8c"/>
<text x="662.3" y="272.4" text-anchor="middle" class="pl">D</text>
<path d="M537.9 89.6L540.1 275" stroke="#ff0000" stroke-width="2" stroke-dasharray="7.5 8.17" fill="none"/>
<text x="321" y="138" class="num">1</text>
<text x="340.3" y="284.1" class="num">2</text>
<text x="429" y="97.3" class="num">3</text>
<text x="469.3" y="273.9" class="num">4</text>
<text x="523.7" y="63.4" class="num">5</text>
<path d="M819.5 0V415.5M0 415.5H820" stroke="#707070" stroke-width="1" fill="none"/>
<path d="M820 9.5H822.5M820 39.5H822.5M820 68.5H822.5M820 98.5H822.5M820 127.5H822.5M820 157.5H822.5M820 186.5H822.5M820 216.5H822.5M820 245.5H822.5M820 275.5H822.5M820 304.5H822.5M820 334.5H822.5M820 363.5H822.5M820 393.5H822.5M1.5 416V418M99.5 416V418M157.5 416V418M216.5 416V418M275.5 416V418M334.5 416V418M392.5 416V418M451.5 416V418M510.5 416V418M568.5 416V418M627.5 416V418M686.5 416V418M744.5 416V418M803.5 416V418" stroke="#707070" stroke-width="1" fill="none"/>
<text x="824.3" y="12.5" class="ax">131.00</text>
<text x="824.3" y="42.0" class="ax">130.50</text>
<text x="824.3" y="71.6" class="ax">130.00</text>
<text x="824.3" y="101.1" class="ax">129.50</text>
<text x="824.3" y="130.7" class="ax">129.00</text>
<text x="824.3" y="189.7" class="ax">128.00</text>
<text x="824.3" y="219.3" class="ax">127.50</text>
<text x="824.3" y="248.8" class="ax">127.00</text>
<text x="824.3" y="307.9" class="ax">126.00</text>
<text x="824.3" y="337.4" class="ax">125.50</text>
<text x="824.3" y="367.0" class="ax">125.00</text>
<text x="824.3" y="396.5" class="ax">124.50</text>
<text x="0.9" y="425.7" text-anchor="middle" class="ax">25</text>
<text x="98.9" y="425.7" text-anchor="middle" class="ax">Июн</text>
<text x="156.9" y="425.7" text-anchor="middle" class="ax">6</text>
<text x="215.9" y="425.7" text-anchor="middle" class="ax">11</text>
<text x="274.9" y="425.7" text-anchor="middle" class="ax">14</text>
<text x="333.9" y="425.7" text-anchor="middle" class="ax">19</text>
<text x="391.9" y="425.7" text-anchor="middle" class="ax">22</text>
<text x="450.9" y="425.7" text-anchor="middle" class="ax">27</text>
<text x="509.9" y="425.7" text-anchor="middle" class="ax">Июл</text>
<text x="567.9" y="425.7" text-anchor="middle" class="ax">5</text>
<text x="626.9" y="425.7" text-anchor="middle" class="ax">10</text>
<text x="685.9" y="425.7" text-anchor="middle" class="ax">13</text>
<text x="743.9" y="425.7" text-anchor="middle" class="ax">18</text>
<text x="802.9" y="425.7" text-anchor="middle" class="ax">21</text>
<rect x="819" y="132" width="31" height="11" fill="#000"/>
<text x="824.5" y="140.6" class="tg">128.84</text>
<path d="M820 137.5H822" stroke="rgba(255,255,255,0.55)" stroke-width="1"/>
<rect x="819" y="155" width="31" height="11" fill="#2d6e17"/>
<text x="824.5" y="163.6" class="tg">128.45</text>
<path d="M820 160.5H822" stroke="rgba(255,255,255,0.55)" stroke-width="1"/>
<rect x="819" y="269" width="31" height="11" fill="#ff0000"/>
<text x="824.5" y="277.6" class="tg">126.52</text>
<path d="M820 274.5H822" stroke="rgba(255,255,255,0.55)" stroke-width="1"/>
<defs><linearGradient id="bb" x1="0" y1="0" x2="0" y2="1"><stop offset="0" stop-color="#f2f2f2"/><stop offset="1" stop-color="#dcdcdc"/></linearGradient></defs><rect x="0" y="427.6" width="850" height="2.4" fill="url(#bb)"/>
<rect x="1.5" y="8.5" width="9" height="8" rx="1.5" fill="none" stroke="#777" stroke-width="1"/>
<path d="M3.5 12.5H8.5" stroke="#777" stroke-width="1"/>
<text x="14.8" y="16.6" style="font-family:'Liberation Sans',Arial,sans-serif;font-size:11.3px;fill:#454545;stroke:#454545;stroke-width:0.35px;letter-spacing:0.05px">EUR/JPY, 60,</text>
<path d="M87.6 11.2H92.8L90.2 13.9Z" fill="#b0b0b0"/>
<rect x="100.1" y="8" width="9.7" height="9.8" fill="#d2d2d2"/>
<ellipse cx="105.2" cy="12.9" rx="2.85" ry="2.25" fill="none" stroke="#fff" stroke-width="1.15"/><ellipse cx="105.2" cy="12.9" rx="1.15" ry="0.65" fill="none" stroke="#fff" stroke-width="0.5"/>
<rect x="112.1" y="8" width="9.8" height="9.8" fill="#d2d2d2"/>
<circle cx="117.1" cy="12.9" r="2.7" fill="#fff"/><rect x="116.30" y="9.15" width="1.6" height="1.6" fill="#fff" transform="rotate(0 117.1 12.9)"/><rect x="116.30" y="9.15" width="1.6" height="1.6" fill="#fff" transform="rotate(45 117.1 12.9)"/><rect x="116.30" y="9.15" width="1.6" height="1.6" fill="#fff" transform="rotate(90 117.1 12.9)"/><rect x="116.30" y="9.15" width="1.6" height="1.6" fill="#fff" transform="rotate(135 117.1 12.9)"/><rect x="116.30" y="9.15" width="1.6" height="1.6" fill="#fff" transform="rotate(180 117.1 12.9)"/><rect x="116.30" y="9.15" width="1.6" height="1.6" fill="#fff" transform="rotate(225 117.1 12.9)"/><rect x="116.30" y="9.15" width="1.6" height="1.6" fill="#fff" transform="rotate(270 117.1 12.9)"/><rect x="116.30" y="9.15" width="1.6" height="1.6" fill="#fff" transform="rotate(315 117.1 12.9)"/><circle cx="117.1" cy="12.9" r="1.2" fill="#d2d2d2"/>
</svg>
</body></html>
